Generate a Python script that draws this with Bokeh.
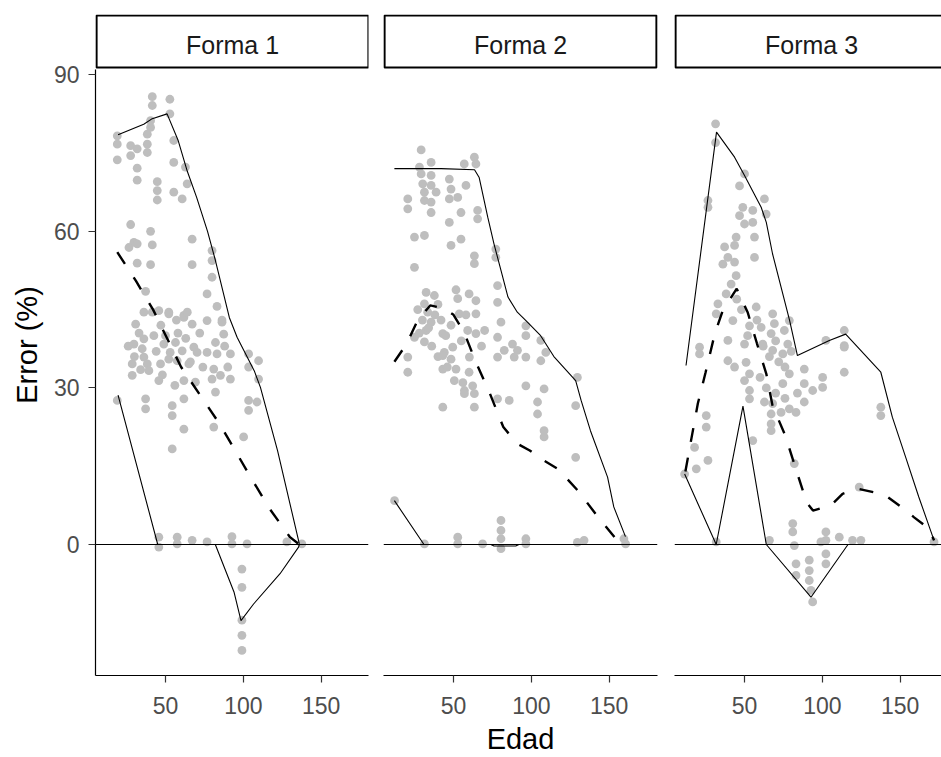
from bokeh.plotting import figure
from bokeh.layouts import row
from bokeh.models import Range1d, Span, FixedTicker
from bokeh.embed import file_html
from bokeh.resources import INLINE
from bokeh.core.properties import value

FONT = "Liberation Sans"

forms = ["Forma 1", "Forma 2", "Forma 3"]
x_ticks = [50, 100, 150]
y_ticks = [0, 30, 60, 90]
x_title = "Edad"
y_title = "Error (%)"

# ---- Forma 1 -------------------------------------------------------------
f1_age = [41.5, 41.5, 52.8, 52.8, 40.4, 40.4, 38.3, 19.0, 19.0, 27.6, 31.8, 38.3,
          27.6, 38.3, 19.0, 55.3, 55.3, 31.8, 62.8, 31.8, 44.7, 44.7, 44.7, 63.9,
          55.3, 60.7, 27.6, 40.4, 29.7, 26.5, 31.8, 41.5, 67.1, 31.8, 40.4, 67.1,
          79.9, 79.9, 79.9, 37.2, 76.7, 83.1, 36.1, 45.7, 52.1, 61.8, 86.3,
          30.8, 41.5, 52.1, 61.8, 67.1, 76.7, 86.3, 87.4, 29.7, 36.1, 42.5, 48.9,
          56.4, 60.7, 68.2, 70.3, 76.7, 82.1, 83.1, 91.7, 36.1, 38.3, 46.8, 52.1,
          57.5, 65.0, 28.6, 28.6, 39.3, 45.7, 61.8, 69.2, 81.0, 85.3, 91.7, 79.9,
          103.4, 109.8, 103.4, 109.8, 103.4, 103.4, 108.8, 37.2, 37.2, 54.3, 54.3,
          61.8, 82.1, 61.8, 81.0, 100.2, 54.3, 19.0,
          33.0, 35.0, 44.0, 50.0, 53.0, 58.0, 63.0, 66.0, 72.0, 74.0, 88.0, 90.0,
          47.0, 57.0, 64.0, 30.0, 26.0, 34.0, 48.0, 56.0,
          45.7, 45.7, 57.5, 57.5, 67.1, 76.7, 92.7, 92.7, 102.4, 128.0, 137.6,
          99.1, 99.1, 99.1, 99.1, 99.1]
f1_err = [85.8, 84.1, 85.3, 82.5, 81.2, 79.9, 78.6, 78.3, 76.7, 76.4, 75.8, 76.7,
          74.5, 75.1, 73.7, 77.4, 73.2, 72.1, 72.3, 69.8, 69.5, 67.8, 66.0, 69.1,
          67.5, 66.2, 61.3, 60.0, 57.9, 56.9, 57.6, 57.4, 58.5, 53.9, 53.6, 53.6,
          56.3, 54.4, 51.2, 48.5, 48.0, 45.6, 44.5, 44.8, 44.5, 43.9, 43.0,
          42.2, 44.5, 44.2, 43.5, 42.2, 42.9, 42.6, 40.3, 38.4, 39.4, 40.0, 38.4,
          38.7, 37.1, 37.8, 36.8, 36.8, 38.7, 36.5, 36.5, 35.9, 34.6, 34.6, 35.5,
          35.2, 34.6, 34.6, 32.4, 33.3, 31.4, 31.4, 31.1, 33.6, 32.4, 31.7, 31.7,
          36.5, 35.2, 34.0, 31.7, 27.6, 25.7, 27.3, 27.9, 26.0, 26.6, 24.7,
          27.9, 29.2, 22.1, 22.5, 20.6, 18.3, 27.6,
          40.5, 37.5, 37.0, 40.0, 36.8, 40.5, 39.5, 35.0, 40.5, 34.0, 38.0, 34.0,
          42.0, 43.0, 44.5, 36.0, 38.0, 33.5, 32.5, 30.5,
          1.4, -0.5, 1.4, 0.1, 0.8, 0.5, 1.5, 0.1, 0.1, 0.5, 0.1,
          -4.7, -8.2, -14.5, -17.4, -20.3]
f1_hi_age = [19.5, 36.0, 41.0, 51.0, 58.0, 64.0, 70.0, 77.0, 82.0, 91.0, 96.0, 107.0, 111.0, 122.0, 136.0]
f1_hi = [78.5, 80.5, 81.5, 82.5, 77.5, 71.5, 66.5, 60.0, 54.5, 43.5, 39.7, 33.3, 30.1, 18.0, 0.1]
f1_lo_age = [19.5, 45.0, 82.0, 94.0, 98.5, 106.6, 123.6, 135.5, 136.0]
f1_lo = [28.6, 0.0, 0.0, -9.1, -14.6, -11.4, -5.6, -0.5, 0.0]
f1_mean_age = [19.0, 31.0, 42.0, 60.0, 85.0, 104.5, 117.0, 130.0, 136.0]
f1_mean = [56.0, 50.5, 45.0, 34.0, 23.0, 13.0, 6.8, 1.4, 0.0]

# ---- Forma 2 -------------------------------------------------------------
f2_age = [29.2, 35.6, 28.1, 29.2, 35.6, 30.2, 35.6, 38.8, 31.3, 20.6, 20.6, 31.3,
          35.6, 35.6, 47.3, 48.4, 47.3, 52.7, 54.8, 58.0, 56.9, 63.4, 64.4, 65.5,
          65.5, 47.3, 24.9, 31.3, 48.4, 54.8, 63.4, 63.4, 77.2, 77.2, 24.9, 78.3,
          78.3, 32.4, 37.7, 31.3, 33.4, 35.6, 32.4, 51.6, 52.7, 64.4, 64.4, 53.7,
          48.4, 43.1, 59.1, 64.4, 24.9, 31.3, 80.5, 96.5, 96.5, 78.3, 87.9, 82.6,
          91.1, 106.1, 109.3, 20.6, 44.1, 49.5, 60.2,
          20.6, 43.1, 48.4, 43.1, 51.6, 50.5, 57.0, 62.3, 63.4, 57.0, 63.4, 43.1,
          78.3, 89.0, 96.5, 106.1, 129.6, 96.5, 108.2, 78.3, 85.8, 104.0, 104.0,
          108.2, 108.2, 128.5, 128.5, 12.1,
          27.0, 30.0, 34.0, 38.0, 40.0, 42.0, 45.0, 28.0, 36.0, 40.0, 46.0, 55.0,
          58.0, 60.0, 68.0, 70.0, 56.0, 60.0,
          31.3, 52.7, 52.7, 68.7, 80.5, 80.5, 80.5, 80.5, 96.5, 96.5, 129.6, 133.9,
          159.5, 160.6]
f2_err = [75.6, 73.2, 72.3, 71.0, 70.7, 69.1, 68.8, 67.5, 67.5, 66.2, 64.3, 65.9,
          65.6, 63.6, 70.0, 68.1, 66.2, 66.5, 63.6, 68.8, 72.9, 74.2, 72.9, 64.0,
          62.4, 61.7, 58.9, 59.2, 57.3, 58.5, 55.3, 53.8, 56.6, 55.0, 53.1, 49.6,
          46.4, 48.3, 47.7, 46.1, 44.5, 42.6, 41.0, 48.8, 47.1, 46.7, 44.2, 44.2,
          42.0, 40.4, 41.0, 40.4, 39.7, 38.8, 42.6, 41.9, 40.0, 39.7, 38.4, 37.2,
          37.2, 39.1, 36.8, 35.9, 36.8, 37.8, 35.9,
          33.0, 36.2, 35.5, 33.6, 33.6, 31.4, 29.5, 30.4, 28.9, 28.9, 26.3, 26.3,
          35.9, 35.9, 35.9, 35.2, 32.0, 30.4, 29.8, 27.9, 27.6, 27.3, 25.0,
          21.8, 20.6, 26.6, 16.7, 8.4,
          45.0, 43.0, 41.5, 44.0, 46.0, 43.0, 40.0, 40.5, 38.0, 36.0, 34.0, 39.0,
          44.0, 48.0, 38.0, 41.0, 31.0, 33.0,
          0.1, 1.4, 0.1, 0.1, 4.6, 2.7, 1.1, -0.8, 1.1, 0.1, 0.4, 0.8,
          1.1, 0.1]
f2_hi_age = [12.0, 42.0, 63.5, 66.5, 72.0, 76.0, 80.5, 85.0, 91.0, 97.5, 106.0, 114.5,
             128.5, 132.0, 138.0, 149.0, 153.0, 160.5]
f2_hi = [72.0, 72.0, 71.8, 70.3, 62.7, 57.6, 52.5, 47.4, 44.5, 42.6, 40.0, 36.0,
         31.4, 27.6, 21.8, 12.9, 7.2, 1.5]
f2_lo_age = [12.0, 31.0, 74.0, 76.0, 90.0, 92.0, 160.5]
f2_lo = [8.4, 0.0, 0.0, -0.3, -0.3, 0.0, 0.0]
f2_mean_age = [12.0, 20.0, 27.0, 35.0, 44.0, 50.0, 57.0, 64.0, 73.0, 82.0, 91.0, 99.0,
               108.0, 117.0, 130.0, 142.0, 154.0, 160.5]
f2_mean = [35.0, 38.5, 43.0, 45.8, 45.2, 44.0, 40.5, 35.2, 29.2, 22.5, 19.3, 18.0,
           16.1, 14.5, 10.3, 5.6, 1.2, 0.3]

# ---- Forma 3 -------------------------------------------------------------
f3_age = [31.4, 31.4, 26.5, 26.5, 50.0, 46.8, 62.8, 48.9, 46.8, 50.0, 55.3, 55.3,
          63.9, 44.6, 43.6, 37.2, 39.3, 36.1, 43.6, 56.4, 56.4, 44.6, 41.4, 38.2,
          32.9, 31.8, 57.5, 42.5, 53.2, 60.7, 68.1, 69.2, 75.6, 78.8, 67.1, 39.3,
          50.0, 21.1, 114.1, 102.3, 114.1,
          21.1, 39.3, 43.6, 51.0, 53.2, 50.0, 53.2, 53.2, 62.8, 61.7, 68.1, 74.6,
          77.8, 78.8, 74.6, 68.1, 67.1, 67.1, 67.1, 73.5, 78.8, 83.1, 88.4, 88.4,
          93.8, 100.2, 100.2, 88.4, 114.1, 114.1, 137.6, 137.6, 25.4, 25.4, 17.9,
          26.5, 19.0, 11.5, 55.3, 82.0, 123.7,
          45.0, 48.0, 52.0, 58.0, 62.0, 66.0, 70.0, 72.0, 76.0, 80.0, 60.0, 64.0,
          70.0, 76.0, 84.0,
          31.8, 66.0, 81.0, 81.0, 82.0, 99.1, 110.9, 119.4, 124.8, 171.8,
          83.1, 83.1, 91.6, 91.6, 91.6, 92.7, 93.8, 102.3, 102.3, 102.3, 102.3]
f3_err = [80.6, 77.0, 65.9, 64.6, 71.0, 68.7, 66.2, 64.6, 63.0, 61.4, 61.7, 64.0,
          63.3, 58.9, 57.3, 57.0, 55.0, 53.7, 54.1, 58.9, 55.0, 51.5, 49.9, 48.0,
          46.1, 44.2, 45.5, 42.9, 41.9, 41.6, 44.2, 42.3, 41.0, 42.9, 40.4, 39.1,
          38.4, 37.8, 41.0, 39.1, 38.1,
          36.5, 35.2, 34.0, 34.9, 32.7, 31.4, 29.5, 27.9, 27.3, 38.4, 37.2, 36.5,
          38.4, 32.7, 30.8, 27.0, 25.0, 23.1, 21.8, 25.3, 26.0, 25.3, 33.6, 30.8,
          29.5, 32.0, 30.1, 27.3, 37.8, 33.0, 26.3, 24.7, 24.7, 22.5, 18.6,
          16.1, 14.5, 13.5, 19.9, 15.5, 11.0,
          47.0, 45.0, 40.0, 43.0, 38.0, 36.0, 39.0, 35.0, 34.0, 37.0, 32.0, 30.0,
          29.0, 28.0, 29.0,
          0.5, 0.8, 4.0, 2.4, -0.2, 0.5, 1.4, 0.8, 0.8, 0.5,
          -3.7, -5.9, -3.0, -5.0, -6.9, -8.8, -11.0, 2.4, 0.8, -1.8, -3.7]
f3_hi_age = [12.4, 32.0, 43.6, 50.0, 60.7, 64.0, 68.0, 79.0, 84.0, 104.5, 115.0,
             137.6, 145.0, 153.6, 162.0, 171.8]
f3_hi = [34.3, 79.0, 74.2, 70.7, 64.6, 61.7, 55.7, 42.9, 36.2, 39.1, 40.3,
         33.0, 24.4, 16.7, 9.1, 0.8]
f3_lo_age = [11.5, 31.8, 49.0, 64.0, 92.7, 116.5, 171.8]
f3_lo = [13.5, 0.0, 26.5, 0.0, -10.1, 0.0, 0.0]
f3_mean_age = [12.0, 20.0, 25.0, 31.0, 36.0, 45.0, 52.0, 58.0, 64.0, 68.0, 76.0, 83.0,
               90.0, 94.0, 105.5, 113.0, 122.6, 133.0, 142.0, 152.5, 159.0, 168.6, 171.8]
f3_mean = [14.0, 27.0, 33.0, 40.5, 44.8, 49.0, 44.5, 38.5, 32.7, 26.6, 21.0, 14.5,
           8.0, 6.5, 7.5, 9.7, 10.7, 10.0, 9.1, 6.8, 5.2, 3.0, 0.8]

panels = [
    dict(age=f1_age, err=f1_err, hi_age=f1_hi_age, hi=f1_hi, lo_age=f1_lo_age, lo=f1_lo,
         mean_age=f1_mean_age, mean=f1_mean),
    dict(age=f2_age, err=f2_err, hi_age=f2_hi_age, hi=f2_hi, lo_age=f2_lo_age, lo=f2_lo,
         mean_age=f2_mean_age, mean=f2_mean),
    dict(age=f3_age, err=f3_err, hi_age=f3_hi_age, hi=f3_hi, lo_age=f3_lo_age, lo=f3_lo,
         mean_age=f3_mean_age, mean=f3_mean),
]

# ---- layout geometry (pixels) ------------------------------------------
PX_PER_AGE = 1.556
X_MIN = 5.0
Y_MIN, Y_MAX = -25.1, 91.0
FULL_W = 274                      # nominal facet width
frames = [                        # (left border, frame width, right border)
    (95, 273, 7),
    (8, 274, 9),
    (8, 267, 0),                  # last facet runs off the page edge
]
TOP = 14                          # space above the facet strips
STRIP_H = 55                      # strip height, sits on top of the data area
DATA_H = 606
BOTTOM = 82
PX_PER_ERR = DATA_H / (Y_MAX - Y_MIN)
Y_TOP = Y_MAX + STRIP_H / PX_PER_ERR

TICK_FONT = "23px"
TITLE_FONT = "29px"
STRIP_FONT = "25px"


def make_panel(i, label, d, left, fw, right):
    first = i == 0
    p = figure(width=left + fw + right, height=TOP + STRIP_H + DATA_H + BOTTOM,
               x_range=Range1d(X_MIN, X_MIN + fw / PX_PER_AGE),
               y_range=Range1d(Y_MIN, Y_TOP),
               y_axis_location="left" if first else None,
               min_border_left=left, min_border_right=right,
               min_border_top=TOP, min_border_bottom=BOTTOM,
               toolbar_location=None, output_backend="svg")
    p.grid.visible = False
    p.outline_line_color = None
    p.background_fill_color = "white"

    # facet strip: a framed box above the data area
    sx0 = X_MIN + 1 / PX_PER_AGE
    sx1 = X_MIN + (FULL_W - 1) / PX_PER_AGE
    sy0 = Y_MAX + 2 / PX_PER_ERR
    sy1 = Y_TOP - 1 / PX_PER_ERR
    p.quad(left=[sx0], right=[sx1], bottom=[sy0], top=[sy1], fill_color="white",
           line_color="black", line_width=2.2)
    p.text(x=[X_MIN + FULL_W / 2 / PX_PER_AGE], y=[Y_MAX + 25 / PX_PER_ERR], text=[label],
           text_align="center", text_baseline="middle",
           text_font=value(FONT), text_font_size=STRIP_FONT, text_color="#1A1A1A")

    p.scatter(d["age"], d["err"], size=8.8, fill_color="#BEBEBE", line_color=None)
    p.line(d["hi_age"], d["hi"], line_color="black", line_width=1.1)
    p.line(d["lo_age"], d["lo"], line_color="black", line_width=1.1)
    p.line(d["mean_age"], d["mean"], line_color="black", line_width=2.4,
           line_dash="14 16")
    p.add_layout(Span(location=0, dimension="width", line_color="black", line_width=1.2))

    axes = [p.xaxis[0]] + ([p.yaxis[0]] if first else [])
    for ax in axes:
        ax.axis_line_color = "black"
        ax.axis_line_width = 1.2
        ax.major_tick_line_color = "#333333"
        ax.major_tick_line_width = 1.2
        ax.major_tick_in = 0
        ax.major_tick_out = 7
        ax.minor_tick_line_color = None
        ax.major_label_text_font = FONT
        ax.major_label_text_font_size = TICK_FONT
        ax.major_label_text_color = "#4D4D4D"
        ax.axis_label_text_font = FONT
        ax.axis_label_text_font_size = TITLE_FONT
        ax.axis_label_text_font_style = "normal"
        ax.axis_label_text_color = "black"
    p.xaxis.ticker = FixedTicker(ticks=x_ticks)
    p.xaxis.major_label_standoff = 14
    if first:
        p.yaxis.ticker = FixedTicker(ticks=y_ticks)
        p.yaxis.bounds = (Y_MIN, Y_MAX)
        p.yaxis.major_label_standoff = 9
        p.yaxis.axis_label = y_title
        p.yaxis.axis_label_standoff = 8
    if i == 1:
        p.xaxis.axis_label = x_title
        p.xaxis.axis_label_standoff = 6
    return p


figs = [make_panel(i, label, d, *fr)
        for i, (label, d, fr) in enumerate(zip(forms, panels, frames))]
layout = row(*figs, spacing=0)
open("out.html", "w").write(file_html(layout, INLINE))
